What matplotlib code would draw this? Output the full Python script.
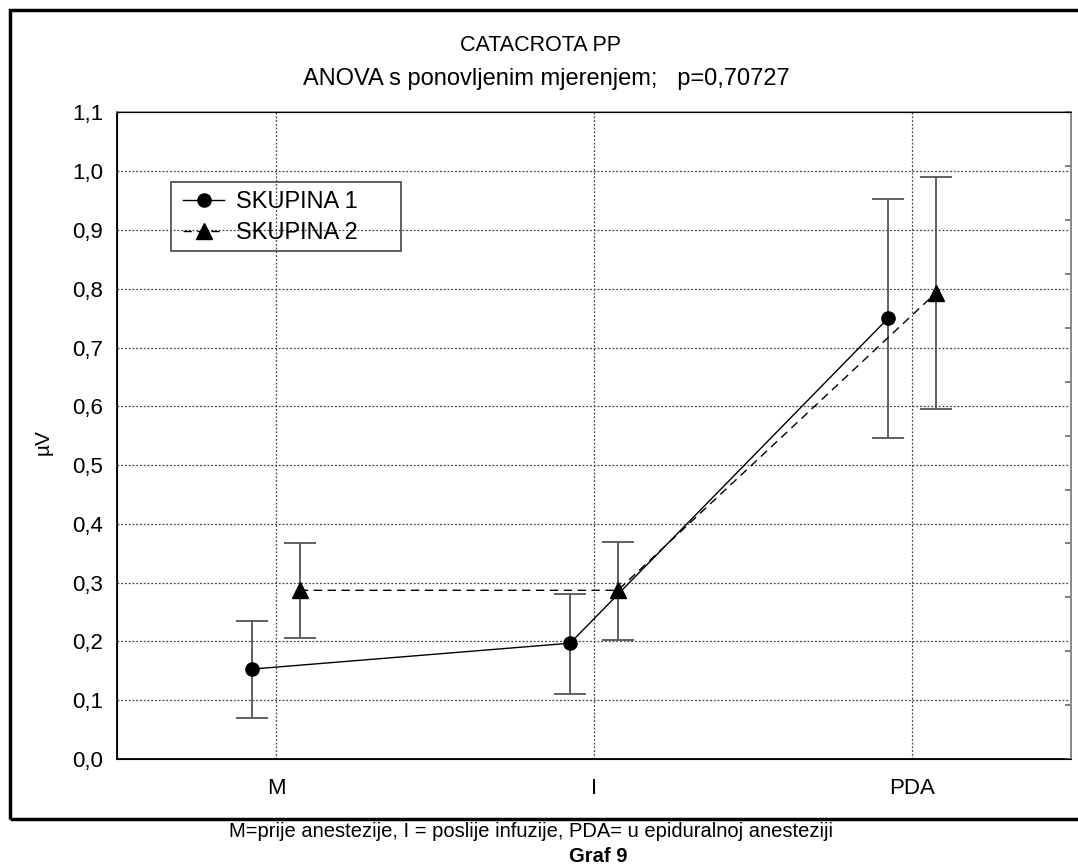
import matplotlib
matplotlib.use("Agg")
from matplotlib import pyplot as plt
from matplotlib.patches import Rectangle

plt.rcParams['font.family'] = ['Liberation Sans', 'DejaVu Sans']

# data
categories = ['M', 'I', 'PDA']
skupina1 = [0.153, 0.197, 0.750]
skupina1_low = [0.070, 0.110, 0.546]
skupina1_high = [0.235, 0.281, 0.952]
skupina2 = [0.287, 0.287, 0.793]
skupina2_low = [0.205, 0.203, 0.595]
skupina2_high = [0.367, 0.369, 0.990]

fig = plt.figure(figsize=(10.78, 8.68), dpi=100)
ax = fig.add_axes([0.1085, 0.1256, 0.885, 0.7448])

x = list(range(len(categories)))
x1 = [i - 0.075 for i in x]
x2 = [i + 0.075 for i in x]

err1 = [[m - lo for m, lo in zip(skupina1, skupina1_low)],
        [hi - m for m, hi in zip(skupina1, skupina1_high)]]
err2 = [[m - lo for m, lo in zip(skupina2, skupina2_low)],
        [hi - m for m, hi in zip(skupina2, skupina2_high)]]

ax.errorbar(x1, skupina1, yerr=err1, fmt='none', ecolor='#555555', elinewidth=1.3, capsize=11.5, capthick=1.3)
ax.errorbar(x2, skupina2, yerr=err2, fmt='none', ecolor='#555555', elinewidth=1.3, capsize=11.5, capthick=1.3)
ax.plot(x1, skupina1, color='black', lw=1, marker='o', ms=9.5, label='SKUPINA 1')
ax.plot(x2, skupina2, color='black', lw=1, ls=(0, (6, 4)), marker='^', ms=11, label='SKUPINA 2')

ax.set_xlim(-0.5, 2.5)
ax.set_ylim(0, 1.1)
ax.set_xticks(x)
ax.set_xticklabels(categories)
yt = [i / 10 for i in range(12)]
ax.set_yticks(yt)
ax.set_yticklabels([f'{v:.1f}'.replace('.', ',') for v in yt])
ax.tick_params(axis='both', length=0, labelsize=16)
ax.tick_params(axis='y', pad=10)
ax.tick_params(axis='x', pad=14)
ax.grid(True, ls=(0, (1.5, 1.5)), color='#444444', lw=0.9)
for s in ['top', 'right']:
    ax.spines[s].set_color('#888888')
    ax.spines[s].set_linewidth(1.2)
for s in ['left', 'bottom']:
    ax.spines[s].set_linewidth(1.3)
ax.set_ylabel('µV', fontsize=15)
ax.yaxis.set_label_coords(-0.067, 0.49)

# small ticks on the right edge
ax2 = ax.twinx()
ax2.set_ylim(0, 12)
ax2.set_yticks(range(13))
ax2.set_yticklabels([])
ax2.tick_params(axis='y', direction='in', length=4, color='#666666', width=1.2)
ax2.spines['right'].set_color('#888888')
ax2.spines['right'].set_linewidth(1.2)

leg = ax.legend(loc='upper left', bbox_to_anchor=(0.0692, 0.8785), fontsize=17, frameon=False,
                borderpad=0, borderaxespad=0, handlelength=1.74, labelspacing=0.4, handletextpad=0.49)
fig.patches.append(Rectangle((0.1586, 0.7114), 0.2134, 0.0789, transform=fig.transFigure,
                             fill=False, edgecolor='#444444', lw=1.2))

fig.text(0.501, 0.9416, 'CATACROTA PP', ha='center', va='baseline', fontsize=15.5)
fig.text(0.507, 0.902, 'ANOVA s ponovljenim mjerenjem;   p=0,70727', ha='center', va='baseline', fontsize=17)
fig.text(0.493, 0.036, 'M=prije anestezije, I = poslije infuzije, PDA= u epiduralnoj anesteziji',
         ha='center', va='baseline', fontsize=14.5)
fig.text(0.555, 0.007, 'Graf 9', ha='center', va='baseline', fontsize=14.5, fontweight='bold')

fig.patches.append(Rectangle((0.009, 0.0565), 1.0, 0.932, transform=fig.transFigure,
                             fill=False, edgecolor='black', lw=2.5))

fig.savefig('out.png', dpi=100)
